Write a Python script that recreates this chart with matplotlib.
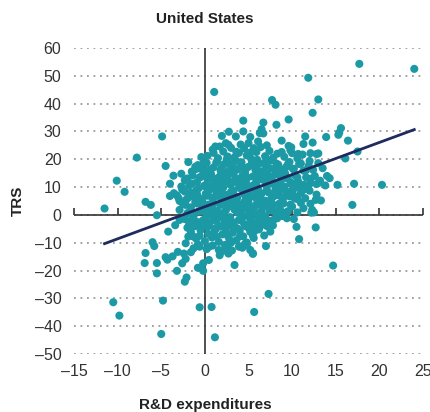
import numpy as np
import matplotlib
matplotlib.use("Agg")
import matplotlib.pyplot as plt

plt.rcParams['font.family'] = ['Liberation Sans', 'DejaVu Sans']

# points: (R&D expenditures, TRS)
core = [
    # 20..25
    (0.3,21.2),(0.9,23.5),(1.5,20.4),(2.1,22.8),(2.6,21.0),(3.0,24.1),(3.4,20.7),(3.9,22.3),(4.5,23.9),
    (4.8,21.4),(5.3,20.2),(5.9,22.6),(6.4,24.4),(6.9,21.1),(7.4,23.0),(7.8,20.5),(8.3,22.0),(9.1,20.9),
    (9.8,23.2),(10.6,20.3),(11.2,21.7),(-0.4,20.8),(1.2,24.6),(4.1,25.3),(5.6,24.0),(2.4,25.8),(7.1,25.0),
    # 15..20
    (-1.5,15.6),(-0.8,17.9),(-0.3,16.2),(0.2,18.7),(0.6,15.4),(1.0,17.1),(1.4,19.3),(1.8,16.0),(2.2,18.2),
    (2.7,15.8),(3.1,17.5),(3.5,19.6),(3.8,16.4),(4.2,18.9),(4.6,15.2),(5.0,17.3),(5.4,19.1),(5.8,16.1),
    (6.2,18.4),(6.6,15.7),(7.0,17.8),(7.5,19.5),(7.9,16.5),(8.4,18.1),(8.8,15.3),(9.3,17.2),(9.7,19.0),
    (10.2,16.6),(10.8,18.3),(11.3,15.9),(11.9,17.7),(12.4,16.2),(13.0,18.6),(-1.9,19.0),(0.0,15.1),
    (2.5,19.9),(4.4,16.9),(6.0,19.8),(8.1,15.0),(9.5,18.0),(12.0,19.4),(13.5,16.8),(3.3,15.0),
    # 10..15
    (-2.3,12.5),(-1.8,10.6),(-1.4,14.2),(-0.9,11.8),(-0.5,13.6),(-0.1,10.4),(0.3,12.9),(0.7,14.7),
    (1.1,11.2),(1.5,13.3),(1.9,10.1),(2.3,12.1),(2.7,14.4),(3.1,11.5),(3.5,13.0),(3.9,10.8),(4.3,14.1),
    (4.7,12.2),(5.1,10.3),(5.5,13.8),(5.9,11.7),(6.3,14.9),(6.7,12.6),(7.1,10.5),(7.5,13.4),(7.9,11.3),
    (8.3,14.6),(8.7,12.4),(9.1,10.2),(9.5,13.1),(9.9,11.6),(10.3,14.3),(10.7,12.0),(11.1,10.7),
    (11.6,13.5),(12.1,11.4),(12.6,14.0),(13.2,12.3),(13.8,10.6),(14.3,13.2),(-2.7,14.8),(0.9,10.9),
    (2.0,14.9),(4.0,12.7),(5.7,10.9),(6.9,14.0),(8.0,10.8),(9.2,14.9),(10.5,10.0),(1.3,12.0),(3.7,11.9),
    (6.1,12.9),
    # 5..10
    (-3.2,7.0),(-2.6,9.1),(-2.1,5.6),(-1.6,8.0),(-1.2,6.3),(-0.7,9.6),(-0.3,5.2),(0.1,7.6),(0.5,9.3),
    (0.9,5.8),(1.3,8.4),(1.7,6.6),(2.1,9.8),(2.5,7.2),(2.9,5.4),(3.3,8.8),(3.7,6.1),(4.1,9.5),(4.5,7.4),
    (4.9,5.5),(5.3,8.6),(5.7,6.4),(6.1,9.2),(6.5,7.7),(6.9,5.1),(7.3,8.1),(7.7,6.2),(8.1,9.7),(8.5,7.0),
    (8.9,5.3),(9.3,8.5),(9.7,6.7),(10.1,9.0),(10.6,5.7),(11.0,7.9),(11.5,6.0),(12.0,8.7),(12.8,7.3),
    (13.3,5.2),(-2.9,5.0),(0.3,6.9),(1.9,8.1),(3.5,5.9),(4.7,9.9),(6.3,5.6),(7.9,7.8),(9.0,9.9),
    (5.1,7.1),(2.7,6.3),(-0.9,7.5),(11.8,9.6),(10.4,6.6),
    # 0..5
    (-2.9,1.8),(-2.5,3.9),(-2.0,0.6),(-1.6,2.7),(-1.1,4.6),(-0.7,1.2),(-0.2,3.3),(0.2,0.4),(0.6,2.2),
    (1.0,4.2),(1.4,1.5),(1.8,3.6),(2.2,0.9),(2.6,2.8),(3.0,4.8),(3.4,1.9),(3.8,3.9),(4.2,0.3),(4.6,2.5),
    (5.0,4.4),(5.4,1.1),(5.8,3.2),(6.2,0.7),(6.6,2.9),(7.0,4.5),(7.4,1.6),(7.8,3.7),(8.2,0.2),(8.6,2.1),
    (9.0,4.1),(9.5,1.3),(10.0,3.0),(10.6,0.9),(11.3,2.4),(12.1,4.0),(-1.3,0.2),(0.8,3.0),(2.4,4.4),
    (4.0,2.0),(5.6,0.1),(7.2,3.1),(8.8,1.0),(1.6,0.0),(3.2,3.0),(6.4,4.0),(-0.5,4.0),
    # -5..0
    (-2.3,-1.5),(-1.8,-3.4),(-1.3,-0.6),(-0.8,-2.6),(-0.4,-4.5),(0.1,-1.1),(0.5,-3.0),(0.9,-0.4),
    (1.3,-2.2),(1.7,-4.2),(2.1,-1.3),(2.5,-3.6),(2.9,-0.8),(3.3,-2.7),(3.7,-4.8),(4.1,-1.7),(4.5,-3.3),
    (4.9,-0.3),(5.3,-2.4),(5.7,-4.0),(6.1,-1.0),(6.5,-3.1),(6.9,-0.5),(7.3,-2.0),(7.8,-3.8),(8.3,-1.2),
    (8.9,-0.4),(1.1,-4.9),(3.0,-4.0),(4.3,-0.9),(6.0,-2.9),(-0.1,-2.0),(2.3,-2.1),(5.0,-4.6),
    # -10..-5
    (-1.6,-6.2),(-1.0,-8.5),(-0.5,-5.5),(0.0,-9.4),(0.4,-6.8),(0.8,-8.1),(1.2,-5.3),(1.6,-9.7),
    (2.0,-7.0),(2.4,-5.9),(2.8,-8.8),(3.2,-6.4),(3.6,-9.1),(4.0,-5.6),(4.4,-7.7),(4.8,-9.9),(5.2,-6.1),
    (5.6,-8.3),(6.2,-5.2),(6.8,-7.4),(7.5,-6.0),(3.0,-10.0),(1.0,-7.0),
    # -15..-10
    (-0.8,-10.6),(0.2,-12.3),(0.9,-11.0),(1.7,-14.5),(2.3,-10.8),(3.1,-12.8),(3.9,-11.4),(4.6,-10.4),
    (2.0,-13.0),(-1.3,-12.0),
]

# second pass over the solid middle of the cloud
core_fill = [
    (-1.8,1.0),(-0.4,1.5),(0.9,1.1),(2.4,1.6),(3.7,0.9),(5.1,1.4),(6.5,1.2),(7.9,1.7),(9.3,0.8),
    (-2.2,3.6),(-0.9,4.1),(0.4,3.7),(1.7,4.0),(3.1,3.5),(4.4,4.2),(5.9,3.8),(7.3,3.4),(8.5,4.0),(9.8,3.7),(11.0,4.3),
    (-1.9,6.2),(-0.5,5.8),(1.0,6.3),(2.2,5.7),(3.6,6.4),(5.0,6.0),(6.3,6.5),(7.6,5.8),(9.0,6.2),(10.3,5.9),
    (-2.3,8.4),(-1.0,8.9),(0.4,8.5),(1.8,8.8),(3.0,8.3),(4.4,8.7),(5.8,8.4),(7.1,9.0),(8.5,8.6),(9.7,8.2),(11.2,8.8),
    (-1.5,11.2),(0.1,10.8),(1.6,11.3),(2.9,10.9),(4.3,11.4),(5.6,10.7),(7.0,11.2),(8.4,10.9),(9.8,11.3),(11.4,10.8),(12.8,11.1),
    (-2.0,13.1),(-0.6,13.5),(0.9,13.2),(2.3,13.6),(3.6,13.1),(4.9,13.4),(6.4,13.0),(7.7,13.6),(9.0,13.2),(10.6,13.5),(12.1,13.0),
    (-1.0,16.5),(0.5,16.2),(1.9,16.7),(3.2,16.3),(4.7,16.6),(6.0,16.2),(7.4,16.8),(8.7,16.3),(10.1,16.5),(11.6,16.1),
    (-0.2,18.4),(1.3,18.8),(2.8,18.5),(4.0,18.9),(5.6,18.3),(6.8,18.7),(8.2,18.4),(9.6,18.8),(11.0,18.5),
    (1.0,22.3),(3.6,22.7),(5.2,22.4),(8.8,22.6),(10.0,22.2),
    (-1.5,-1.7),(-0.2,-1.9),(1.0,-1.6),(2.6,-2.0),(3.9,-1.8),(5.2,-1.6),(6.6,-2.0),(7.9,-1.7),
    (-1.2,-4.1),(0.3,-4.3),(1.9,-4.0),(3.4,-4.4),(4.7,-4.1),(6.3,-4.3),(7.1,-4.0),
    (-0.6,-7.5),(1.3,-7.8),(2.6,-7.4),(4.0,-7.7),(5.5,-7.5),
    (0.5,-11.4),(2.6,-11.7),(4.0,-11.3),
    (0.2,2.0),(1.1,9.9),(2.8,12.0),(4.6,5.0),(6.0,10.0),(7.2,14.6),(3.3,17.0),(5.4,2.2),(8.0,6.9),(1.8,14.3),
]

upper = [
    (1.07,44.2),(17.7,54.3),(24.0,52.5),(11.85,49.3),(13.0,41.5),(7.7,41.3),(8.1,39.6),(12.35,36.7),
    (9.6,34.3),(4.4,33.9),(6.7,33.2),(8.2,32.4),(-4.9,28.2),(6.5,30.8),(6.7,29.3),(4.4,30.0),
    (2.75,29.9),(1.95,28.4),(3.55,28.2),(5.2,28.0),(11.5,28.2),(13.9,28.0),(15.4,29.6),(15.6,31.2),
    (15.3,28.8),(16.4,26.7),(8.8,26.7),(12.35,26.0),(11.3,25.5),(10.7,21.9),(9.6,24.8),(9.9,24.3),
    (12.1,22.2),(13.0,22.1),(17.5,22.8),(16.1,20.3),(14.0,14.0),(1.7,24.6),(2.7,25.2),(6.1,26.4),
    (12.8,21.9),(5.0,25.8),(6.3,29.4),
]

left = [
    (-7.8,20.6),(-10.1,12.3),(-9.2,8.3),(-11.5,2.3),(-6.8,4.7),(-6.2,3.6),(-5.5,-0.1),(-4.5,17.6),
    (-3.6,14.1),(-4.0,11.2),(-2.7,10.2),(-1.1,17.3),(-3.55,7.8),(-4.0,6.8),(-3.0,6.0),
]

right = [
    (20.3,10.8),(17.1,11.2),(15.2,10.8),(16.9,3.6),(13.1,11.6),(12.7,5.4),(12.3,1.8),(12.7,-4.5),
    (10.8,-8.7),(10.5,-4.3),(10.2,-1.5),(9.4,-1.2),(12.2,0.8),(12.5,0.9),
]

lower = [
    (7.0,-11.2),(5.5,-13.8),(3.4,-18.0),(14.7,-18.2),(-6.0,-9.8),(-5.8,-11.2),(-6.8,-13.7),(-6.9,-17.3),
    (-5.5,-17.3),(-5.5,-21.0),(-4.5,-15.2),(-4.3,-16.1),(-3.7,-14.9),(-3.1,-13.3),(-2.4,-13.9),
    (-2.2,-15.8),(-2.6,-17.4),(-3.2,-20.1),(-1.6,-13.4),(-2.1,-22.5),(-2.3,-24.0),(-0.8,-19.0),
    (-0.2,-20.1),(-0.2,-17.4),(-10.5,-31.4),(-9.8,-36.2),(-4.8,-30.8),(-5.0,-42.8),(-0.6,-33.2),
    (-4.2,-6.0),(-3.4,-3.7),(-2.9,-1.8),(-2.0,-4.6),(-1.9,-7.8),(-2.2,-10.2),(-1.3,-7.8),(-0.6,-11.4),
    (1.15,-44.0),(0.77,-33.1),(5.65,-34.9),(7.3,-28.4),(0.46,-16.2),(1.6,-12.6),(2.7,-13.9),(5.5,-14.0),
    (4.3,-11.8),(4.8,-10.8),(5.2,-12.6),(5.7,-5.8),
]

# fitted line
fit_slope = 1.155
fit_intercept = 2.95

xticks = [-15, -10, -5, 0, 5, 10, 15, 20, 25]
yticks = [-50, -40, -30, -20, -10, 0, 10, 20, 30, 40, 50, 60]

pts = np.array(core + core_fill + upper + left + right + lower)
rd, trs = pts[:, 0], pts[:, 1]

teal = '#1b9aa5'
navy = '#1f2a5e'
dark = '#333333'

fig = plt.figure(figsize=(4.31, 4.12), dpi=100)
ax = fig.add_axes([74/431, 1-354/412, 349/431, 306/412])
ax.set_xlim(-15, 25)
ax.set_ylim(-50, 60)

for s in ax.spines.values():
    s.set_visible(False)

for y in yticks:
    ax.axhline(y, color='#9a9a9a', lw=1.3, ls=(0, (1, 2.6)), zorder=1)
ax.axvline(0, color=dark, lw=1.2, zorder=2)
ax.axhline(0, color=dark, lw=1.2, zorder=2)

sec = ax.secondary_xaxis(0, transform=ax.transData)
sec.set_xticks([t for t in xticks if t != 0])
sec.tick_params(direction='in', length=5, width=1.2, color=dark, labelbottom=False, labeltop=False)
for s in sec.spines.values():
    s.set_visible(False)

ax.scatter(rd, trs, s=34, color=teal, edgecolors='none', zorder=3, clip_on=False)

xs = np.array([rd.min(), rd.max()])
ax.plot(xs, fit_intercept + fit_slope * xs, color=navy, lw=2, zorder=4)

ax.set_xticks(xticks)
ax.set_yticks(yticks)
ax.set_xticklabels([str(t).replace('-', '\u2013') for t in xticks])
ax.set_yticklabels([str(t).replace('-', '\u2013') for t in yticks])
ax.tick_params(length=0, labelsize=11.5, colors=dark)
ax.tick_params(axis='x', pad=7)
ax.tick_params(axis='y', pad=9)

fig.text(205/431, 1-19/412, 'United States', ha='center', va='center',
         fontsize=11, fontweight='bold', color='#222222')
fig.text(205/431, 1-405/412, 'R&D expenditures', ha='center', va='center',
         fontsize=11, fontweight='bold', color='#222222')
fig.text(18/431, 1-201/412, 'TRS', ha='center', va='center', rotation=90,
         fontsize=11, fontweight='bold', color='#222222')

fig.savefig('out.png', dpi=100)
